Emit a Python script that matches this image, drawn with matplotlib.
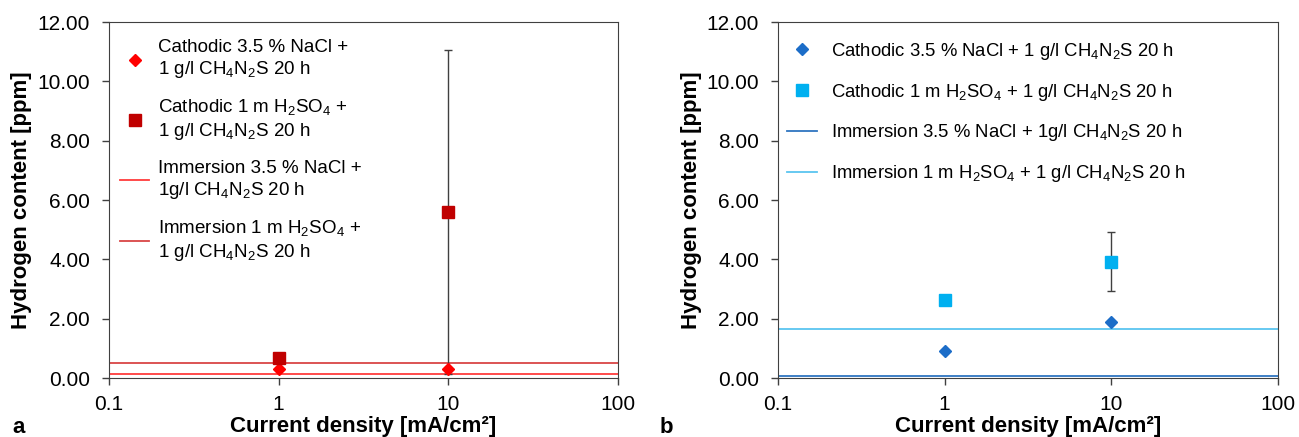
import matplotlib
matplotlib.use("Agg")
import matplotlib.pyplot as plt

plt.rcParams['font.family'] = ['Liberation Sans', 'DejaVu Sans']
plt.rcParams['mathtext.fontset'] = 'custom'
plt.rcParams['mathtext.rm'] = 'Liberation Sans'

# datos
densidad = [1, 10]

# panel a (rojo)
a_nacl = [0.30, 0.30]
a_h2so4 = [0.68, 5.60]
a_h2so4_err = [0.0, 5.45]
a_inm_nacl = 0.15
a_inm_h2so4 = 0.50

# panel b (azul)
b_nacl = [0.92, 1.88]
b_h2so4 = [2.62, 3.92]
b_h2so4_err = [0.0, 1.0]
b_inm_nacl = 0.06
b_inm_h2so4 = 1.64

yticks = [0, 2, 4, 6, 8, 10, 12]
xticks = [0.1, 1, 10, 100]
xticklabels = ['0.1', '1', '10', '100']

sub = lambda s: r'$_\mathregular{' + s + '}$'
tiourea = 'CH' + sub('4') + 'N' + sub('2') + 'S'
h2so4 = 'H' + sub('2') + 'SO' + sub('4')

labels_a = ['Cathodic 3.5 % NaCl +\n1 g/l ' + tiourea + ' 20 h',
            'Cathodic 1 m ' + h2so4 + ' +\n1 g/l ' + tiourea + ' 20 h',
            'Immersion 3.5 % NaCl +\n1g/l ' + tiourea + ' 20 h',
            'Immersion 1 m ' + h2so4 + ' +\n1 g/l ' + tiourea + ' 20 h']
labels_b = ['Cathodic 3.5 % NaCl + 1 g/l ' + tiourea + ' 20 h',
            'Cathodic 1 m ' + h2so4 + ' + 1 g/l ' + tiourea + ' 20 h',
            'Immersion 3.5 % NaCl + 1g/l ' + tiourea + ' 20 h',
            'Immersion 1 m ' + h2so4 + ' + 1 g/l ' + tiourea + ' 20 h']

gris = '#404040'
fig = plt.figure(figsize=(12.99, 4.37), dpi=100)
ax1 = fig.add_axes([109/1299, 59/437, 509/1299, 356/437])
ax2 = fig.add_axes([778/1299, 59/437, 500/1299, 356/437])


def panel(ax, cat1, cat2, err2, inm1, inm2, colores):
    c_dia, c_sq, c_l1, c_l2 = colores
    ax.errorbar(densidad, cat2, yerr=err2, fmt='none', ecolor=gris,
                elinewidth=1, capsize=3, capthick=1, zorder=2)
    l1 = ax.axhline(inm1, color=c_l1, lw=1.3, zorder=1)
    l2 = ax.axhline(inm2, color=c_l2, lw=1.3, zorder=1)
    p1, = ax.plot(densidad, cat1, 'D', color=c_dia, ms=6, ls='none', zorder=3)
    p2, = ax.plot(densidad, cat2, 's', color=c_sq, ms=8.5, ls='none', zorder=3)
    ax.set_xscale('log')
    ax.set_xlim(0.1, 100)
    ax.set_ylim(0, 12)
    ax.set_xticks(xticks)
    ax.set_xticklabels(xticklabels)
    ax.minorticks_off()
    ax.set_yticks(yticks)
    ax.set_yticklabels([f'{v:.2f}' for v in yticks])
    ax.tick_params(labelsize=15, length=5, color=gris, width=1)
    ax.tick_params(axis='y', pad=8.6)
    ax.tick_params(axis='x', pad=7)
    for s in ax.spines.values():
        s.set_color(gris)
    ax.set_xlabel('Current density [mA/cm²]', fontsize=16, fontweight='bold')
    ax.set_ylabel('Hydrogen content [ppm]', fontsize=16, fontweight='bold')
    ax.xaxis.set_label_coords(0.5, -0.107)
    ax.yaxis.set_label_coords(-0.152, 0.5)
    return [p1, p2, l1, l2]


h = panel(ax1, a_nacl, a_h2so4, a_h2so4_err, a_inm_nacl, a_inm_h2so4,
          ['#FF0000', '#C00000', '#FF3B3B', '#D94545'])
ax1.legend(h, labels_a, loc='upper left', bbox_to_anchor=(0.0216, 0.952), frameon=False,
           fontsize=13.5, handlelength=1.55, labelspacing=0.95, handletextpad=0.48,
           borderpad=0, borderaxespad=0)

h = panel(ax2, b_nacl, b_h2so4, b_h2so4_err, b_inm_nacl, b_inm_h2so4,
          ['#1C6DC8', '#00B0F0', '#2F75C0', '#5BC5F0'])
ax2.legend(h, labels_b, loc='upper left', bbox_to_anchor=(0.018, 0.947), frameon=False,
           fontsize=13.3, handlelength=1.6, labelspacing=1.07, handletextpad=0.8,
           borderpad=0, borderaxespad=0)

fig.text(12/1299, 4/437, 'a', fontsize=16, fontweight='bold')
fig.text(660/1299, 4/437, 'b', fontsize=16, fontweight='bold')

fig.savefig('out.png', dpi=100)
